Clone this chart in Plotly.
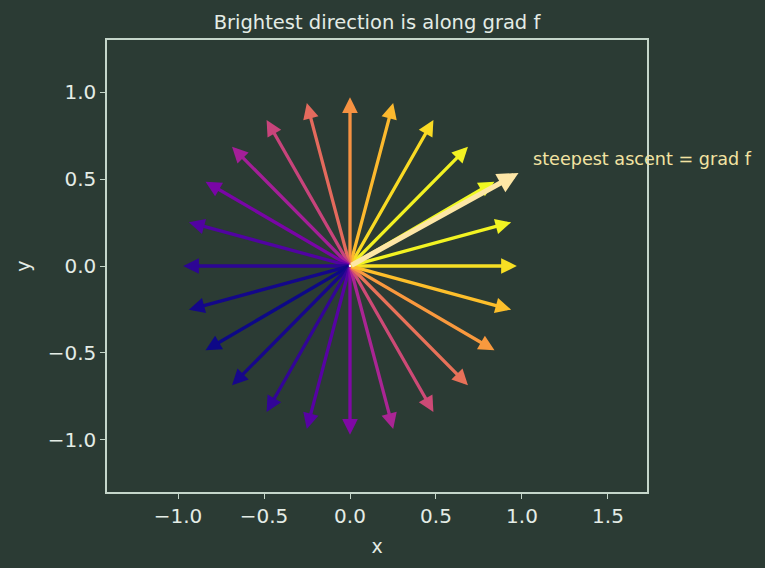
import numpy as np
import plotly.graph_objects as go
from plotly.colors import sample_colorscale

# Directions (degrees) of the unit vectors drawn from the origin
angles_deg = [0, 15, 30, 45, 60, 75, 90, 105, 120, 135, 150, 165,
              180, 195, 210, 225, 240, 255, 270, 285, 300, 315, 330, 345]
arrow_len = 0.97
# Directional derivative along each direction (drives the colour)
dir_deriv = [0.877, 0.972, 1.000, 0.960, 0.854, 0.691, 0.480, 0.237,
             -0.023, -0.281, -0.520, -0.723, -0.877, -0.972, -1.000, -0.960,
             -0.854, -0.691, -0.480, -0.237, 0.023, 0.281, 0.520, 0.723]
# grad f arrow tip
grad_tip = [0.98, 0.535]
label_pos = [1.055, 0.615]
label_text = "steepest ascent = grad f"

x_ticks = [-1.0, -0.5, 0.0, 0.5, 1.0, 1.5]
y_ticks = [-1.0, -0.5, 0.0, 0.5, 1.0]

BG = "#2b3b34"
FG = "#e4ece6"
SPINE = "#c5d6ca"

dmin, dmax = min(dir_deriv), max(dir_deriv)
norm = [(d - dmin) / (dmax - dmin) for d in dir_deriv]
colors = sample_colorscale("Plasma", norm)

fig = go.Figure()
fig.add_trace(go.Scatter(x=[0], y=[0], mode="markers",
                         marker=dict(color="white", size=4), hoverinfo="skip",
                         showlegend=False))

annotations = []
for a, c in zip(angles_deg, colors):
    t = np.deg2rad(a)
    annotations.append(dict(
        x=arrow_len * np.cos(t), y=arrow_len * np.sin(t), xref="x", yref="y",
        ax=0, ay=0, axref="x", ayref="y", showarrow=True, text="",
        arrowhead=2, arrowsize=0.95, arrowwidth=3.3, arrowcolor=c, standoff=0))
annotations.append(dict(
    x=grad_tip[0], y=grad_tip[1], xref="x", yref="y",
    ax=0, ay=0, axref="x", ayref="y", showarrow=True, text="",
    arrowhead=2, arrowsize=0.8, arrowwidth=5.2, arrowcolor="#fde6a6", standoff=0))
annotations.append(dict(
    x=label_pos[0], y=label_pos[1], xref="x", yref="y", text=label_text,
    showarrow=False, xanchor="left", yanchor="middle",
    font=dict(family="DejaVu Sans", size=17.6, color="#f3e3a2")))

fig.update_layout(
    width=765, height=568,
    margin=dict(l=107, r=118, t=40, b=76),
    paper_bgcolor=BG, plot_bgcolor=BG,
    font=dict(family="DejaVu Sans", color=FG, size=20),
    title=dict(text="Brightest direction is along grad f", x=0.5, xref="paper",
               xanchor="center", y=1 - 22 / 568, yref="container", yanchor="middle",
               font=dict(size=19.5, color=FG)),
    annotations=annotations,
    showlegend=False,
)
fig.update_xaxes(range=[-1.413, 1.727], tickvals=x_ticks,
                 ticktext=[f"{v:.1f}".replace("-", "\u2212") for v in x_ticks],
                 showgrid=False, zeroline=False, showline=True, mirror=True,
                 linecolor=SPINE, linewidth=1.5, ticks="outside", ticklen=5,
                 tickcolor=SPINE, tickwidth=1.3,
                 title=dict(text="x", standoff=13, font=dict(size=19)))
fig.update_yaxes(range=[-1.3, 1.3], tickvals=y_ticks,
                 ticktext=[f"{v:.1f}".replace("-", "\u2212") for v in y_ticks],
                 showgrid=False, zeroline=False, showline=True, mirror=True,
                 linecolor=SPINE, linewidth=1.5, ticks="outside", ticklen=5,
                 tickcolor=SPINE, tickwidth=1.3,
                 title=dict(text="y", standoff=12, font=dict(size=19)))

fig.write_html("out.html")
